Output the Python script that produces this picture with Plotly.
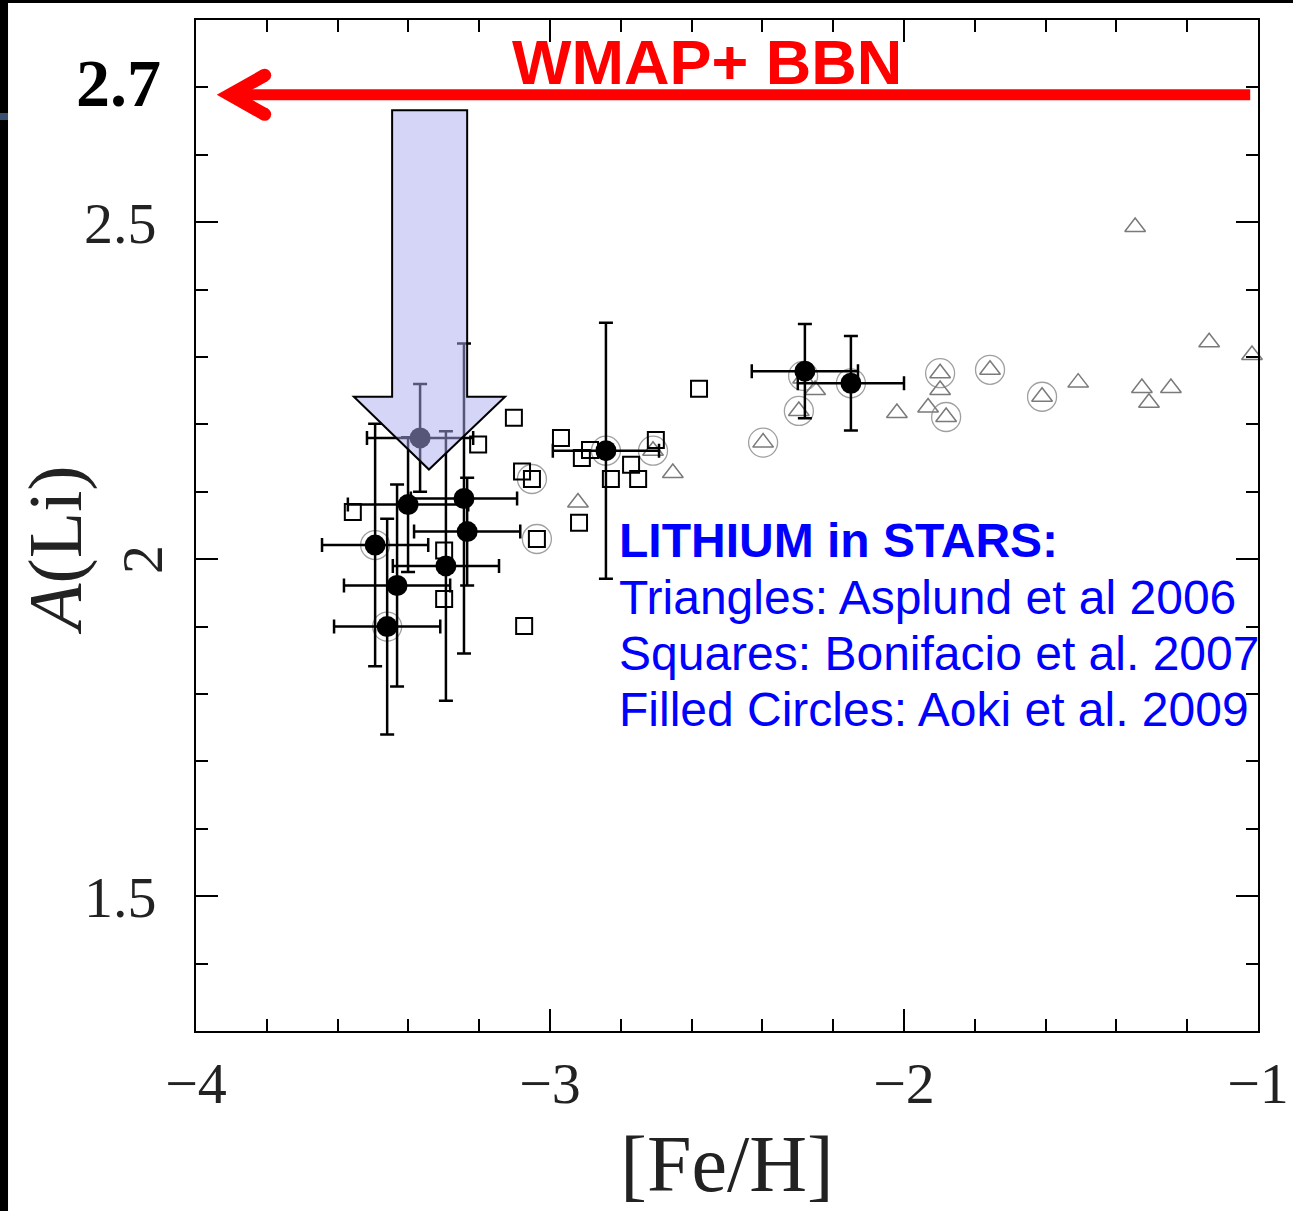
import plotly.graph_objects as go

# ---------------- data ----------------
# Aoki et al. 2009 (filled circles with error bars)
aoki_feh = [-3.367, -3.401, -3.243, -3.234, -3.294, -3.494, -3.460, -3.432, -2.842, -2.280, -2.150]
aoki_li = [2.180, 2.081, 2.090, 2.041, 1.990, 2.021, 1.900, 1.961, 2.161, 2.279, 2.261]
aoki_feh_err = [0.15, 0.17, 0.15, 0.15, 0.15, 0.15, 0.15, 0.15, 0.15, 0.15, 0.15]
aoki_li_err = [0.08, 0.10, 0.23, 0.08, 0.20, 0.18, 0.16, 0.15, 0.19, 0.07, 0.07]

# Bonifacio et al. 2007 (open squares)
bon_feh = [-3.557, -3.299, -3.299, -3.073, -3.102, -3.203, -3.079, -3.051, -3.037,
           -2.969, -2.910, -2.887, -2.828, -2.771, -2.751, -2.701, -2.918, -2.579]
bon_li = [2.070, 2.013, 1.941, 1.901, 2.210, 2.170, 2.130, 2.119, 2.030,
          2.180, 2.150, 2.162, 2.119, 2.140, 2.119, 2.177, 2.054, 2.253]

# Asplund et al. 2006 (open triangles)
asp_feh = [-2.921, -2.709, -2.653, -2.398, -2.297, -2.251, -2.285, -2.020, -1.932, -1.898,
           -1.898, -1.881, -1.757, -1.610, -1.508, -1.347, -1.328, -1.308, -1.246, -1.138, -1.017]
asp_li = [2.084, 2.161, 2.128, 2.173, 2.220, 2.251, 2.268, 2.217, 2.225, 2.276,
          2.251, 2.211, 2.281, 2.241, 2.262, 2.493, 2.254, 2.232, 2.254, 2.322, 2.303]

# grey rings around some stars
ring_feh = [-3.494, -3.460, -3.051, -3.037, -2.842, -2.709, -2.398, -2.297, -2.285,
            -2.150, -1.898, -1.881, -1.757, -1.610]
ring_li = [2.021, 1.900, 2.119, 2.030, 2.161, 2.161, 2.173, 2.220, 2.272,
           2.261, 2.276, 2.211, 2.281, 2.241]

wmap_bbn = 2.689
x_ticks = [-4, -3, -2, -1]
y_ticks = [1.5, 2.0, 2.5]
y_ticktext = ["1.5", "", "2.5"]

# ---------------- figure ----------------
fig = go.Figure()

fig.add_trace(go.Scatter(
    x=ring_feh, y=ring_li, mode="markers", cliponaxis=False,
    marker=dict(symbol="circle-open", size=29, color="#a0a0a0", line=dict(width=1.3)),
    showlegend=False, hoverinfo="skip"))

fig.add_trace(go.Scatter(
    x=asp_feh, y=asp_li, mode="markers", cliponaxis=False,
    marker=dict(symbol="triangle-up-open", size=18, color="#7a7a7a", line=dict(width=1.5)),
    name="Asplund et al 2006", showlegend=False))

fig.add_trace(go.Scatter(
    x=bon_feh, y=bon_li, mode="markers", cliponaxis=False,
    marker=dict(symbol="square-open", size=16, color="black", line=dict(width=2)),
    name="Bonifacio et al. 2007", showlegend=False))

fig.add_trace(go.Scatter(
    x=aoki_feh, y=aoki_li, mode="markers", cliponaxis=False,
    marker=dict(symbol="circle", size=21, color="black"),
    error_x=dict(type="data", array=aoki_feh_err, color="black", thickness=2.5, width=7),
    error_y=dict(type="data", array=aoki_li_err, color="black", thickness=2.5, width=7),
    name="Aoki et al. 2009", showlegend=False))

shapes = []
# lavender down arrow
shapes.append(dict(
    type="path", xref="x", yref="y", layer="above",
    path="M -3.446,2.666 L -3.234,2.666 L -3.234,2.241 L -3.127,2.241 L -3.342,2.133 "
         "L -3.554,2.241 L -3.446,2.241 Z",
    fillcolor="rgba(172,172,240,0.5)", line=dict(color="black", width=2)))
# red WMAP+BBN arrow
shapes.append(dict(type="line", xref="x", yref="y", layer="above",
                   x0=-1.022, x1=-3.89, y0=wmap_bbn, y1=wmap_bbn,
                   line=dict(color="#ff0000", width=11)))
shapes.append(dict(type="path", xref="x", yref="y", layer="above",
                   path="M -3.806,2.718 L -3.904,2.689 L -3.806,2.660",
                   line=dict(color="#ff0000", width=13)))
for yy in (2.718, 2.660):
    shapes.append(dict(type="circle", xref="x", yref="y", layer="above",
                       xsizemode="pixel", ysizemode="pixel", xanchor=-3.806, yanchor=yy,
                       x0=-6.5, x1=6.5, y0=-6.5, y1=6.5,
                       fillcolor="#ff0000", line=dict(width=0)))
# slide background remnants on the left / top
shapes.append(dict(type="rect", xref="paper", yref="paper", x0=-0.19, x1=-0.1770, y0=-0.2, y1=1.03,
                   fillcolor="black", line=dict(width=0), layer="above"))
shapes.append(dict(type="rect", xref="paper", yref="paper", x0=-0.19, x1=1.04, y0=1.0168, y1=1.03,
                   fillcolor="black", line=dict(width=0), layer="above"))
shapes.append(dict(type="rect", xref="paper", yref="paper", x0=-0.19, x1=-0.1770,
                   y0=(1031 - 120) / 1011, y1=(1031 - 113) / 1011,
                   fillcolor="#3a5070", line=dict(width=0), layer="above"))


def py(p):
    return (1031 - p) / 1011


def px(p):
    return (p - 196) / 1062


blue = dict(family="Liberation Sans, Arial", size=48, color="#0000ff")
annotations = [
    dict(text="<b>WMAP+ BBN</b>", xref="paper", yref="paper", x=px(707), y=py(62),
         xanchor="center", yanchor="middle", showarrow=False,
         font=dict(family="Liberation Sans, Arial", size=63, color="#ff0000")),
    dict(text="<b>2.7</b>", xref="paper", yref="paper", x=px(163), y=py(83),
         xanchor="right", yanchor="middle", showarrow=False,
         font=dict(family="Liberation Serif, Times New Roman", size=68, color="black")),
    dict(text="2", xref="paper", yref="paper", x=px(142), y=py(560),
         xanchor="center", yanchor="middle", showarrow=False, textangle=-90,
         font=dict(family="Liberation Serif", size=58, color="#222")),
    dict(text="<i>A</i>(Li)", xref="paper", yref="paper", x=px(55), y=py(550),
         xanchor="center", yanchor="middle", showarrow=False, textangle=-90,
         font=dict(family="Liberation Serif", size=76, color="#222")),
    dict(text="<b>LITHIUM in STARS:</b>", xref="paper", yref="paper", x=px(617), y=py(540),
         xanchor="left", yanchor="middle", showarrow=False, font=blue),
    dict(text="Triangles: Asplund et al 2006", xref="paper", yref="paper", x=px(617), y=py(597),
         xanchor="left", yanchor="middle", showarrow=False, font=blue),
    dict(text="Squares: Bonifacio et al. 2007", xref="paper", yref="paper", x=px(617), y=py(653),
         xanchor="left", yanchor="middle", showarrow=False, font=blue),
    dict(text="Filled Circles: Aoki et al. 2009", xref="paper", yref="paper", x=px(617), y=py(709),
         xanchor="left", yanchor="middle", showarrow=False, font=blue),
]

axis_common = dict(
    showline=True, linecolor="black", linewidth=2, mirror="ticks",
    ticks="inside", ticklen=22, tickwidth=2, tickcolor="black",
    showgrid=False, zeroline=False, automargin=False,
    tickfont=dict(family="Liberation Serif", size=58, color="#222"),
)

fig.update_layout(
    width=1293, height=1211,
    margin=dict(l=196, r=35, t=20, b=180),
    paper_bgcolor="white", plot_bgcolor="white",
    shapes=shapes, annotations=annotations,
    xaxis=dict(range=[-4, -1], tickvals=x_ticks, ticklabelstandoff=0,
               minor=dict(ticks="inside", ticklen=12, tickwidth=1.5, dtick=0.2, tick0=-4,
                          tickcolor="black"),
               title=dict(text="[Fe/H]", standoff=20,
                          font=dict(family="Liberation Serif", size=80, color="#222")),
               **axis_common),
    yaxis=dict(range=[1.3, 2.8], tickvals=y_ticks, ticktext=y_ticktext, ticklabelstandoff=26,
               minor=dict(ticks="inside", ticklen=12, tickwidth=1.5, dtick=0.1, tick0=1.3,
                          tickcolor="black"),
               **axis_common),
)

fig.write_html("out.html")
